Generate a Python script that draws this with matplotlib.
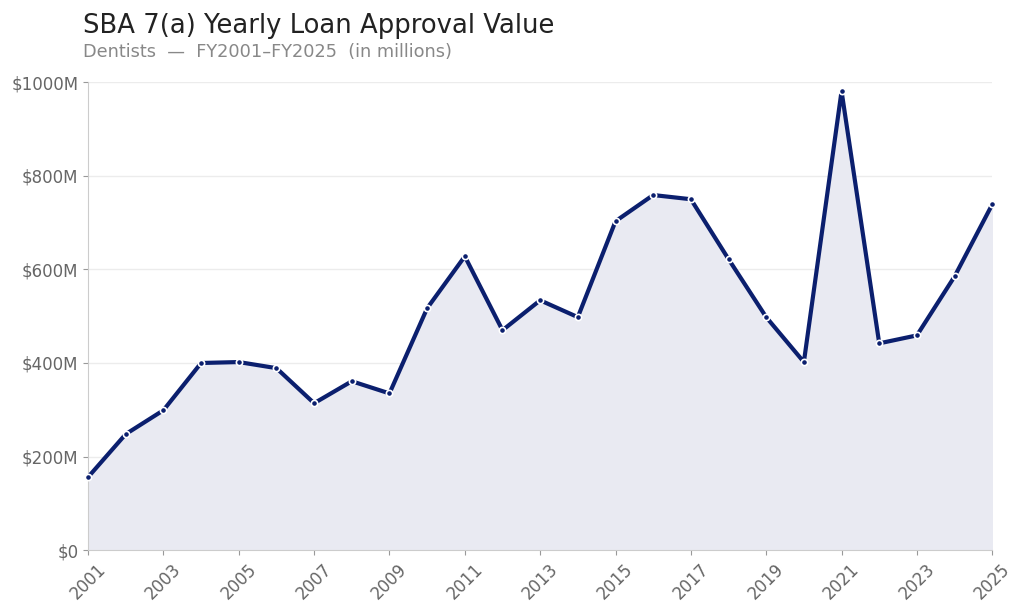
import matplotlib
matplotlib.use('Agg')
import matplotlib.pyplot as plt
from matplotlib.ticker import FuncFormatter

years = list(range(2001, 2026))
approval_musd = [156, 248, 299, 400, 402, 389, 314, 361, 335, 517,
                 628, 470, 534, 498, 703, 759, 750, 622, 498, 402,
                 981, 442, 459, 585, 739]
tick_years = list(range(2001, 2026, 2))
yticks = [0, 200, 400, 600, 800, 1000]

navy = '#0b1f6e'

fig = plt.figure(figsize=(10.24, 6.14), dpi=100)
ax = fig.add_axes([0.086, 0.104, 0.883, 0.762])

ax.fill_between(years, approval_musd, 0, color='#e9eaf2', zorder=1)
ax.plot(years, approval_musd, color=navy, linewidth=3, zorder=3,
        marker='o', markersize=4.5, markerfacecolor=navy,
        markeredgecolor='white', markeredgewidth=1.2, clip_on=False)

ax.set_xlim(2001, 2025)
ax.set_ylim(0, 1000)
ax.set_xticks(tick_years)
ax.set_xticklabels([str(y) for y in tick_years], rotation=45, fontsize=12, color='#666666')
ax.set_yticks(yticks)
ax.yaxis.set_major_formatter(FuncFormatter(lambda v, p: '$0' if v == 0 else '$%dM' % v))
ax.tick_params(axis='y', labelsize=12, labelcolor='#666666', color='#999999')
ax.tick_params(axis='x', color='#999999')

ax.grid(axis='y', color='#ececec', linewidth=1, zorder=0)
ax.set_axisbelow(True)
for s in ['top', 'right']:
    ax.spines[s].set_visible(False)
for s in ['left', 'bottom']:
    ax.spines[s].set_color('#cccccc')

fig.text(0.081, 0.946, 'SBA 7(a) Yearly Loan Approval Value', fontsize=18.6,
         color='#222222', va='baseline')
fig.text(0.081, 0.907, 'Dentists  \u2014  FY2001\u2013FY2025  (in millions)', fontsize=12.8,
         color='#888888', va='baseline')

fig.savefig('out.png', dpi=100)
